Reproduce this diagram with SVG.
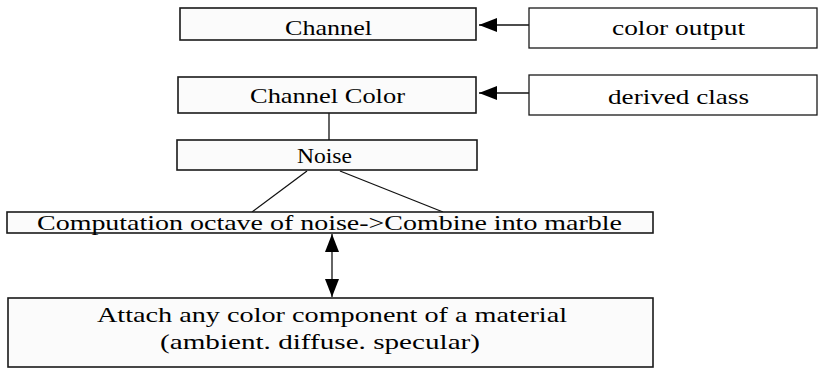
<svg xmlns="http://www.w3.org/2000/svg" width="819" height="369" viewBox="0 0 819 369">
<defs>
<marker id="ah" viewBox="0 0 18 14" refX="18" refY="7" markerWidth="18" markerHeight="14" markerUnits="userSpaceOnUse" orient="auto-start-reverse">
<path d="M0,0 L18,7 L0,14 Z" fill="#000"/>
</marker>
</defs>
<style>
.box{fill:#fbfbfb;stroke:#1a1a1a;stroke-width:1.6}
.wbox{fill:#fff;stroke:#1a1a1a;stroke-width:1.3}
.t{font-family:"Liberation Serif","Times New Roman",serif;font-size:22px;fill:#000}
.c{stroke:#111;stroke-width:1.3;fill:none}
</style>
<rect width="819" height="369" fill="#fff"/>
<g id="connectors">
<line class="c" x1="529" y1="25" x2="479" y2="25" marker-end="url(#ah)"/>
<line class="c" x1="529" y1="93" x2="479" y2="93" marker-end="url(#ah)"/>
<line class="c" x1="329" y1="113" x2="329" y2="140"/>
<line class="c" x1="307" y1="171" x2="252" y2="212"/>
<line class="c" x1="340" y1="171" x2="443" y2="212"/>
<line class="c" x1="332" y1="234" x2="332" y2="297" marker-start="url(#ah)" marker-end="url(#ah)"/>
</g>
<g id="channel">
<rect class="box" x="180" y="8" width="296" height="32"/>
<text class="t" x="285" y="35" textLength="87" lengthAdjust="spacingAndGlyphs">Channel</text>
</g>
<g id="color-output">
<rect class="wbox" x="529" y="8" width="288" height="40"/>
<text class="t" x="612" y="35" textLength="133" lengthAdjust="spacingAndGlyphs">color  output</text>
</g>
<g id="channel-color">
<rect class="box" x="178" y="77" width="298" height="36"/>
<text class="t" x="250" y="103" textLength="155" lengthAdjust="spacingAndGlyphs">Channel  Color</text>
</g>
<g id="derived-class">
<rect class="wbox" x="529" y="75" width="288" height="40"/>
<text class="t" x="608" y="104" textLength="141" lengthAdjust="spacingAndGlyphs">derived  class</text>
</g>
<g id="noise">
<rect class="box" x="177" y="140" width="300" height="30"/>
<text class="t" x="297" y="163" textLength="55" lengthAdjust="spacingAndGlyphs">Noise</text>
</g>
<g id="computation">
<rect class="box" x="7" y="212" width="646" height="21"/>
<text class="t" x="37" y="230" textLength="585" lengthAdjust="spacingAndGlyphs">Computation  octave  of  noise->Combine  into  marble</text>
</g>
<g id="attach">
<rect class="box" x="8" y="298" width="645" height="69"/>
<text class="t" x="97" y="322" textLength="470" lengthAdjust="spacingAndGlyphs">Attach  any  color  component  of  a  material</text>
<text class="t" x="160" y="349" textLength="320" lengthAdjust="spacingAndGlyphs">(ambient.  diffuse.  specular)</text>
</g>
</svg>
